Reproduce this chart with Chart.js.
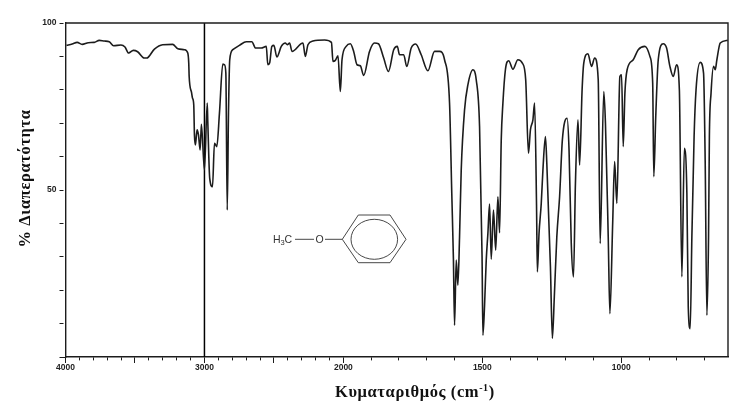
<!DOCTYPE html>
<html><head><meta charset="utf-8">
<script src="https://cdn.jsdelivr.net/npm/chart.js@4"></script>
<style>html,body{margin:0;padding:0;background:#fff}canvas{display:block}</style>
</head><body><canvas id="c" width="756" height="417"></canvas>
<script>
const wavenumbers=[3993,3952,3916,3880,3836,3793,3757,3721,3685,3654,3601,3572,3546,3512,3481,3433,3416,3360,3301,3229,3192,3144,3120,3113,3110,3092,3086,3077,3072,3065,3053,3043,3031,3022,3000,2980,2976,2962,2942,2928,2911,2892,2868,2856,2846,2836,2827,2818,2796,2748,2699,2659,2632,2591,2555,2544,2531,2515,2500,2479,2447,2418,2404,2387,2370,2291,2274,2255,2219,2135,2086,2075,2058,2039,2022,2010,1990,1975,1963,1951,1939,1927,1906,1888,1874,1855,1838,1819,1806,1798,1783,1772,1756,1740,1720,1696,1672,1654,1636,1618,1610,1604,1600,1594,1588,1582,1576,1564,1552,1534,1522,1510,1501,1498,1492,1486,1480,1474,1468,1460,1452,1444,1438,1432,1426,1417,1405,1390,1372,1356,1344,1334,1327,1318,1312,1305,1302,1296,1288,1282,1273,1268,1255,1248,1241,1232,1222,1212,1195,1188,1180,1172,1165,1156,1150,1141,1135,1120,1107,1096,1083,1076,1063,1057,1047,1041,1031,1024,1016,1005,999,993,987,979,957,939,915,897,887,883,876,867,849,837,825,813,801,791,782,773,764,759,752,746,738,731,716,704,698,692,686,683,677,668,662,656,644,617];
const transmittance=[93.3,93.7,94.2,93.6,94.1,94.2,94.8,94.6,94.4,93.2,93.4,92.8,91.0,91.8,91.4,89.5,89.5,92.2,93.5,93.6,92.3,92.0,91.0,88.0,84.0,79.0,77.5,75.5,66.5,63.5,68.0,66.5,62.0,69.7,56.0,76.0,70.5,53.5,51.0,64.0,63.0,73.0,87.7,87.5,85.0,44.0,73.0,89.0,92.0,93.3,94.4,94.4,92.5,92.5,93.0,87.5,88.0,93.0,93.3,89.8,93.0,94.0,93.5,94.0,91.5,94.0,90.0,93.5,94.6,94.9,94.2,88.5,88.8,90.2,79.5,89.0,93.0,93.8,91.5,87.5,87.2,84.3,91.5,94.0,93.8,89.5,85.5,92.0,93.0,90.5,90.5,87.0,92.5,93.7,90.5,85.7,91.5,91.5,89.0,76.0,49.0,29.0,9.5,29.0,21.5,36.0,56.0,74.0,81.5,86.0,83.0,69.0,30.0,6.5,15.5,29.0,37.0,45.8,29.3,44.0,32.0,48.0,37.2,65.0,76.0,86.0,88.7,86.2,89.0,88.0,83.0,61.0,68.0,71.0,76.0,45.5,25.5,37.0,46.0,56.0,66.0,58.0,27.0,5.6,18.0,36.0,48.0,65.0,71.5,62.0,34.0,24.0,52.0,71.0,57.5,80.0,88.0,90.8,87.0,89.5,83.0,34.0,79.5,70.0,36.0,13.0,40.0,58.5,46.0,84.0,84.5,63.0,79.0,86.0,89.0,92.0,93.0,90.0,82.0,54.0,72.0,89.0,93.8,92.5,87.0,84.0,87.5,80.0,24.0,62.5,49.0,15.0,8.5,36.0,66.0,80.0,88.2,85.0,58.0,12.5,36.0,66.0,79.0,87.0,86.0,89.0,94.0,94.8];
const markerWavenumber=[3000,3000];
const markerTransmittance=[100,0];
const xLabels=[4000,3000,2000,1500,1000];
const yLabels=[100,50];
const xAxisTitle="Κυματαριθμός (cm";
const xAxisSup="-1";
const xAxisClose=")";
const yAxisTitle="% Διαπερατότητα";
const INK="#1c1c1c";
const SERIF="'Liberation Serif',serif";
const SANS="'Liberation Sans',sans-serif";

// The spectrometer's wavenumber axis doubles its scale below 2000 cm-1.
const toAxis=w=>w>=2000?4000-w:2000+(2000-w)*2;
const fromAxis=u=>u<=2000?4000-u:2000-(u-2000)/2;
const pair=(xs,ys)=>xs.map((w,i)=>({x:toAxis(w),y:ys[i]}));

const decor={id:'decor',afterDraw(chart){
  const {ctx,chartArea:a}=chart;
  ctx.save();
  ctx.strokeStyle=INK;ctx.lineWidth=1.4;
  ctx.beginPath();ctx.moveTo(a.left,a.top);ctx.lineTo(a.right,a.top);ctx.lineTo(a.right,a.bottom);ctx.stroke();
  // molecule
  ctx.strokeStyle='#333';ctx.lineWidth=0.9;
  ctx.beginPath();
  [[342.3,239.3],[358.3,215],[390,215],[406,239.3],[390,262.7],[358.3,262.7]].forEach((p,i)=>i?ctx.lineTo(p[0],p[1]):ctx.moveTo(p[0],p[1]));
  ctx.closePath();ctx.stroke();
  ctx.beginPath();ctx.ellipse(374.3,239.3,23.3,20,0,0,Math.PI*2);ctx.stroke();
  ctx.beginPath();ctx.moveTo(295,239.3);ctx.lineTo(314,239.3);ctx.moveTo(325,239.3);ctx.lineTo(342.3,239.3);ctx.stroke();
  ctx.fillStyle='#333';ctx.textBaseline='alphabetic';ctx.textAlign='left';
  ctx.font=`10.5px ${SANS}`;
  ctx.fillText('H',273,243.2);
  const hw=ctx.measureText('H').width;
  ctx.font=`7.5px ${SANS}`;ctx.fillText('3',273+hw,245);
  ctx.font=`10.5px ${SANS}`;ctx.fillText('C',273+hw+4,243.2);
  ctx.textAlign='center';ctx.fillText('O',319.5,243.2);
  // axis titles
  ctx.fillStyle='#111';ctx.textAlign='left';
  ctx.letterSpacing='0.6px';
  ctx.font=`bold 16.5px ${SERIF}`;
  let x=335;const base=397;
  ctx.fillText(xAxisTitle,x,base);x+=ctx.measureText(xAxisTitle).width;
  ctx.font=`bold 10px ${SERIF}`;ctx.fillText(xAxisSup,x,base-6);x+=ctx.measureText(xAxisSup).width;
  ctx.font=`bold 16.5px ${SERIF}`;ctx.fillText(xAxisClose,x,base);
  ctx.save();ctx.translate(30,178.5);ctx.rotate(-Math.PI/2);ctx.textAlign='center';
  ctx.font=`bold 16.5px ${SERIF}`;ctx.fillText(yAxisTitle,0,0);ctx.restore();
  ctx.restore();
}};

new Chart(document.getElementById('c'),{
  type:'line',
  data:{datasets:[
    {data:pair(wavenumbers,transmittance),borderColor:INK,borderWidth:1.6,pointRadius:0,cubicInterpolationMode:'monotone',fill:false,borderJoinStyle:'round'},
    {data:pair(markerWavenumber,markerTransmittance),borderColor:'#000',borderWidth:1.5,pointRadius:0,tension:0,fill:false}
  ]},
  plugins:[decor],
  options:{
    responsive:false,animation:false,devicePixelRatio:1,
    layout:{padding:{top:23,right:28,left:0,bottom:0}},
    plugins:{legend:{display:false},tooltip:{enabled:false}},
    scales:{
      x:{type:'linear',min:0,max:toAxis(616),
        afterFit(s){s.height=60;},
        afterBuildTicks(s){
          const t=[];
          for(let w=4000;w>=2000;w-=100)t.push({value:toAxis(w)});
          for(let w=1900;w>=700;w-=100)t.push({value:toAxis(w)});
          s.ticks=t;
        },
        border:{display:true,color:INK,width:1.4},
        grid:{drawOnChartArea:false,drawTicks:true,tickLength:6,tickColor:INK,tickWidth:1,
          tickBorderDash(c){const w=fromAxis(c.tick.value);return w%500===0?[]:[3,20];}},
        ticks:{autoSkip:false,maxRotation:0,padding:0,color:'#222',font:{family:SANS,size:8.5,weight:'bold'},
          callback(v){const w=fromAxis(v);return xLabels.includes(w)?String(w):'';}}
      },
      y:{type:'linear',min:0,max:100,
        afterFit(s){s.width=65.5;},
        border:{display:true,color:INK,width:1.4},
        grid:{drawOnChartArea:false,drawTicks:true,tickLength:6,tickColor:INK,tickWidth:1,
          tickBorderDash(c){return c.tick.value===0?[]:[4,20];}},
        ticks:{stepSize:10,autoSkip:false,padding:3,color:'#222',font:{family:SANS,size:8.5,weight:'bold'},
          callback(v){return yLabels.includes(v)?String(v):'';}}
      }
    }
  }
});
</script></body></html>
